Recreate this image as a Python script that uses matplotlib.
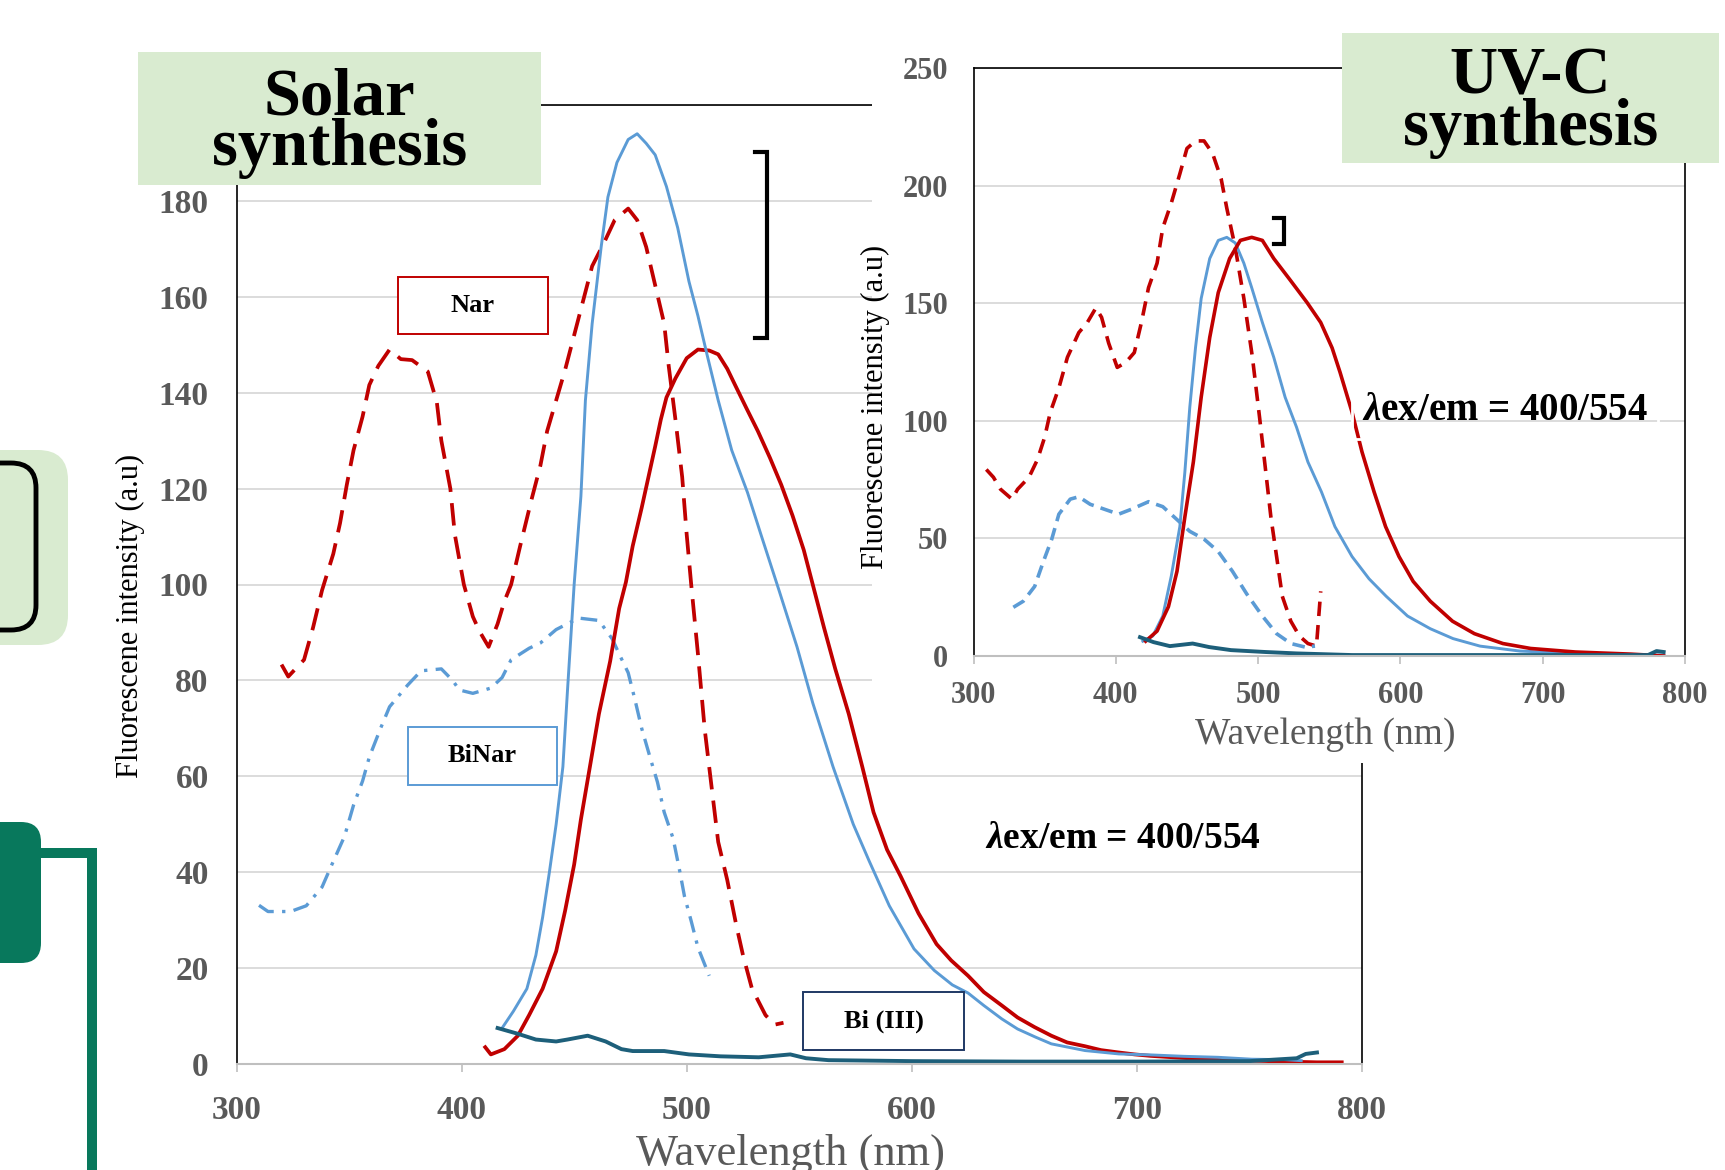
import matplotlib
matplotlib.use('Agg')
import matplotlib.pyplot as plt
from matplotlib.patches import Rectangle, FancyBboxPatch
from matplotlib.lines import Line2D

plt.rcParams['font.family'] = ['Liberation Serif', 'DejaVu Serif']
plt.rcParams['mathtext.fontset'] = 'custom'
plt.rcParams['mathtext.it'] = 'Liberation Serif:italic:bold'
plt.rcParams['mathtext.rm'] = 'Liberation Serif:bold'

# ---- Solar synthesis (main panel) ----
nar_ex_wl = [320, 323, 330, 334, 338, 343, 346, 349, 352, 356, 359, 363, 368, 373, 378,
             385, 389, 391, 395, 397, 401, 405, 408, 412, 416, 419, 422, 426, 431, 435,
             438, 442, 446, 450, 454, 458, 463, 468, 474, 478, 482, 486, 490, 492, 495,
             498, 500, 502, 505, 508, 511, 514, 518, 522, 525, 529, 535, 539, 543]
nar_ex = [83.3, 80.8, 84.3, 91, 98.8, 106.4, 112.8, 120.8, 128, 135, 141.6, 145.6, 149, 147, 146.8,
          144.4, 138, 130, 120, 110.4, 100, 93.3, 90.2, 87, 91.8, 96.5, 100, 108, 117.6, 124.8,
          132, 138.4, 144.8, 152, 159.2, 166.4, 171, 176, 178.4, 176, 170.4, 162.4, 154.4, 145.6, 134.4,
          122.4, 110.4, 100, 85.5, 69.8, 58, 46.3, 38.4, 29, 22.7, 15.7, 10.2, 8.2, 8.6]

binar_ex_wl = [310, 314, 324, 331, 338, 342, 348, 352, 356, 359, 364, 368, 376, 382, 391, 396, 399,
               405, 413, 418, 422, 430, 435, 442, 452, 461, 467, 470, 474, 477, 480, 484, 487, 490,
               494, 497, 499, 502, 505, 510]
binar_ex = [33.1, 31.8, 31.8, 33, 36.9, 41.2, 47.5, 54, 59, 64, 70, 74.5, 79, 82, 82.4, 80, 78,
            77.3, 78.4, 80.6, 84.3, 86.7, 87.8, 90.6, 93, 92.5, 88.6, 85.5, 81.6, 76, 70, 63.5, 58.8, 52.5,
            47, 40, 35, 29.8, 24.3, 18.4]

binar_em_wl = [418, 423, 429, 433, 436, 439, 442, 445, 447, 450, 453, 455, 458, 462, 465, 469, 474, 478,
               482, 486, 491, 496, 501, 505, 509, 514, 520, 527, 533, 541, 549, 556, 565, 574, 581, 590,
               601, 610, 618, 625, 632, 640, 647, 655, 662, 677, 692, 706, 721, 736, 751, 766, 773]
binar_em = [7.5, 11, 15.7, 22.7, 30.6, 40, 50, 62, 77.6, 100, 118.4, 138.4, 154.4, 170.4, 180.8, 188, 192.8, 194,
            192, 189.6, 183, 174.4, 163.2, 156, 148, 138.4, 128, 119.2, 110.4, 98.8, 87, 75.3, 62, 50, 42.4, 33,
            24, 19.5, 16.5, 14.8, 12.2, 9.4, 7.3, 5.6, 4.2, 2.8, 2.1, 1.9, 1.6, 1.4, 1, 0.9, 0.7]

nar_em_wl = [410.5, 413, 419, 425, 430, 436, 442, 446, 450, 453, 457, 461, 466, 470, 473, 476, 480, 483,
             486, 488.5, 491, 495, 500, 505, 510, 514, 518, 521.5, 526.5, 531.6, 537, 542, 547, 552, 556,
             561, 566, 572, 578, 583, 589, 595, 603, 611, 617.5, 625, 632, 640, 647, 654.5, 662, 669, 677,
             684, 692, 699, 706, 721, 736, 751, 766, 780, 791]
nar_em = [3.5, 2, 3.1, 5.9, 10.2, 15.7, 23.5, 32, 41.6, 51, 62, 73, 84, 95, 100.5, 108, 116, 122.4,
          128.8, 134.4, 139, 143, 147.2, 149, 148.8, 148, 145, 141.6, 136.8, 132, 126.4, 120.8, 114.4, 107.2, 100,
          91, 82.4, 73, 62, 52.5, 44.7, 39.2, 31.4, 25, 21.6, 18.4, 15, 12.2, 9.7, 7.7, 5.9, 4.5, 3.7,
          2.9, 2.4, 2, 1.7, 1.25, 0.9, 0.7, 0.5, 0.35, 0.35]

bi_wl = [416, 425, 433, 442, 447, 456, 464, 471, 476, 490, 501, 515, 532, 546, 553, 563, 600, 650, 700,
         750, 771, 775, 780]
bi = [7.5, 6.3, 5.1, 4.7, 5.1, 5.9, 4.7, 3.1, 2.7, 2.7, 2, 1.6, 1.4, 2, 1.2, 0.8, 0.6, 0.5, 0.5,
      0.6, 1.2, 2.1, 2.4]

# ---- UV-C synthesis (inset panel) ----
uv_nar_ex_wl = [309, 314, 319, 327, 331, 339, 345, 350, 354, 360, 366, 374, 380, 386, 390, 395, 401, 407,
                413, 418, 423, 429, 433, 439, 445, 450, 456, 462, 468, 474, 478, 484, 490, 496, 501, 505,
                509, 513, 517, 523, 529, 535, 541, 544]
uv_nar_ex = [79.3, 76, 70.9, 66.7, 70.9, 76, 83.6, 93, 103.7, 114, 127, 137.5, 141.8, 148, 144, 133, 122.7, 124.8,
             129, 141.8, 156.6, 167, 182, 192.6, 205, 215.8, 219, 219, 213.7, 203, 190.4, 173.5, 152, 127, 101.6, 80.4,
             59, 42.3, 25.4, 14.8, 8.5, 5.3, 4.2, 27.5]

uv_binar_ex_wl = [328, 335, 343, 349, 355, 360, 368, 374, 382, 392, 402, 411, 423, 433, 443, 452, 462,
                  472, 482, 492, 503, 513, 523, 533, 540]
uv_binar_ex = [20.7, 23.3, 29.6, 40, 49.7, 60.3, 66.7, 67.7, 64.5, 62.4, 60.3, 62.4, 65.6, 63.5, 58, 53, 49.7,
               44.4, 36, 26.4, 17, 9.5, 5.3, 3.8, 4.2]

uv_binar_em_wl = [419, 426, 433, 439, 445, 448.5, 452, 456, 460, 466, 472, 478, 484, 490, 495.5, 503, 511,
                  519, 527, 535, 544.5, 554, 566, 578, 590, 605, 621, 637, 656, 684, 723, 762, 785]
uv_binar_em = [6.3, 8.5, 17, 34, 55, 78, 105.8, 131, 152, 169, 176.7, 178, 175.6, 167, 156.6, 141.8, 127,
               110, 97.3, 82.5, 69.8, 55, 42.3, 32.8, 25.4, 17, 11.6, 7.4, 4.2, 2.1, 1.1, 0.4, 0.4]

uv_nar_em_wl = [421, 429, 437, 443, 448.5, 454.5, 460, 466, 472, 480, 487.5, 495.5, 503, 511, 522.6, 534.5,
                544, 552, 557.6, 566, 573, 581.5, 589.6, 599, 609, 621, 636.6, 652, 672, 691.5, 723, 762,
                774, 785]
uv_nar_em = [6.3, 10.6, 21, 36, 59, 82.5, 110, 135.4, 154.5, 169, 176.7, 178, 176.7, 169, 159.8, 150.2,
             141.8, 131, 120.6, 103.7, 86.8, 69.8, 55, 42.3, 31.7, 23.3, 14.8, 9.5, 5.3, 3.2, 1.7, 0.8,
             0.4, 0]

uv_bi_wl = [417, 426.5, 438, 454, 465.6, 481, 505, 527, 566, 774, 780, 785]
uv_bi = [8, 5.9, 4.2, 5.3, 3.8, 2.5, 1.7, 1.1, 0.4, 0.4, 2.1, 1.7]

x_ticks = [300, 400, 500, 600, 700, 800]
main_yticks = list(range(0, 201, 20))
inset_yticks = [0, 50, 100, 150, 200, 250]

RED = '#c00000'
BLUE = '#5b9bd5'
TEAL = '#1d5f7a'
NAVY = '#1f3864'
GRAY = '#595959'
LGREEN = '#d9ebd0'
DGREEN = '#08785c'

W, H = 1725, 1170
fig = plt.figure(figsize=(W / 100, H / 100), dpi=100)
fig.patch.set_facecolor('white')
PX = fig.dpi_scale_trans


def rect_in(x0, y0, x1, y1):
    # pixel box (top-left origin) -> inches
    return x0 / 100, (H - y1) / 100, (x1 - x0) / 100, (y1 - y0) / 100


def frac(x0, y0, x1, y1):
    return [x0 / W, 1 - y1 / H, (x1 - x0) / W, (y1 - y0) / H]


def add_rect(x0, y0, x1, y1, **kw):
    r = rect_in(x0, y0, x1, y1)
    p = Rectangle(r[:2], r[2], r[3], transform=PX, **kw)
    fig.add_artist(p)
    return p


def add_round(x0, y0, x1, y1, rad, **kw):
    r = rect_in(x0, y0, x1, y1)
    p = FancyBboxPatch(r[:2], r[2], r[3], boxstyle='round,pad=0,rounding_size=%g' % rad,
                       transform=PX, **kw)
    fig.add_artist(p)
    return p


def style_axis(ax, ymax, yticks, xpad, ypad, fs):
    ax.set_xlim(300, 800)
    ax.set_ylim(0, ymax)
    ax.set_xticks(x_ticks)
    ax.set_yticks(yticks)
    ax.grid(axis='y', color='#d9d9d9', lw=1.3)
    ax.set_axisbelow(True)
    for s in ['left', 'top', 'right']:
        ax.spines[s].set_color('black')
        ax.spines[s].set_linewidth(1.2)
    ax.spines['bottom'].set_color('#bfbfbf')
    ax.spines['bottom'].set_linewidth(1.5)
    ax.tick_params(axis='y', length=0, pad=ypad)
    ax.tick_params(axis='x', length=6, width=1.2, color='#bfbfbf', pad=xpad)
    for lab in ax.get_xticklabels() + ax.get_yticklabels():
        lab.set_fontsize(fs)
        lab.set_fontweight('bold')
        lab.set_color(GRAY)


# main axes
ax = fig.add_axes(frac(236.5, 105, 1362, 1064))
ax.set_zorder(1)
style_axis(ax, 200, main_yticks, 16, 20, 24)
ax.plot(nar_ex_wl, nar_ex, color=RED, lw=2.7, dashes=(6, 3))
ax.plot(binar_ex_wl, binar_ex, color=BLUE, lw=2.4, dashes=(5, 2.5, 1, 2.5))
ax.plot(nar_em_wl, nar_em, color=RED, lw=2.7)
ax.plot(binar_em_wl, binar_em, color=BLUE, lw=2.1)
ax.plot(bi_wl, bi, color=TEAL, lw=2.8)
ax.plot([530.4, 535.8, 535.8, 530.4], [190.2, 190.2, 151.4, 151.4], color='black', lw=3,
        solid_joinstyle='miter')
ax.text(693.6, 47.1, r'$\lambda$ex/em = 400/554', ha='center', va='center',
        fontsize=27, fontweight='bold')

# white background behind the inset
add_rect(872, -10, W + 10, 763, facecolor='white', edgecolor='none', zorder=2)

# inset axes
ins = fig.add_axes(frac(973.5, 68, 1685, 656))
ins.set_zorder(3)
ins.patch.set_alpha(0)
style_axis(ins, 250, inset_yticks, 12, 18, 22)
ins.plot(uv_nar_ex_wl, uv_nar_ex, color=RED, lw=2.6, dashes=(4, 2.5))
ins.plot(uv_binar_ex_wl, uv_binar_ex, color=BLUE, lw=2.6, dashes=(3.5, 2))
ins.plot(uv_binar_em_wl, uv_binar_em, color=BLUE, lw=2.1)
ins.plot(uv_nar_em_wl, uv_nar_em, color=RED, lw=2.6)
ins.plot(uv_bi_wl, uv_bi, color=TEAL, lw=2.8)
ins.plot([511.2, 518.2, 518.2, 511.2], [186.2, 186.2, 175.2, 175.2], color='black', lw=3,
         solid_joinstyle='miter')
ins.text(673.5, 104.2, r'$\lambda$ex/em = 400/554', ha='center', va='center',
         fontsize=28, fontweight='bold',
         bbox=dict(boxstyle='square,pad=0.25', facecolor='none', edgecolor='white', lw=2))

# axis titles
fig.text(130 / W, 1 - 616 / H, 'Fluorescene intensity (a.u)', rotation=90, ha='center', va='center',
         fontsize=22)
fig.text(875 / W, 1 - 407 / H, 'Fluorescene intensity (a.u)', rotation=90, ha='center', va='center',
         fontsize=22, zorder=4)
fig.text(790 / W, 1 - 1134 / H, 'Wavelength (nm)', ha='center', va='top', fontsize=32, color=GRAY)
fig.text(1325 / W, 1 - 735 / H, 'Wavelength (nm)', ha='center', va='center', fontsize=27, color=GRAY,
         zorder=4)

# series label boxes
for (x0, y0, x1, y1), txt, ec in [((398, 277, 548, 334), 'Nar', RED),
                                   ((408, 727, 557, 785), 'BiNar', BLUE),
                                   ((803, 992, 964, 1050), 'Bi (III)', NAVY)]:
    add_rect(x0, y0, x1, y1, facecolor='white', edgecolor=ec, lw=1.4, zorder=2.5)
    fig.text((x0 + x1) / 2 / W, 1 - (y0 + y1) / 2 / H, txt, ha='center', va='center', fontsize=19,
             fontweight='bold', zorder=2.6)

# title boxes
for (x0, y0, x1, y1), txt in [((137.5, 52, 541, 185), 'Solar\nsynthesis'),
                               ((1342, 33, 1719, 163), 'UV-C\nsynthesis')]:
    add_rect(x0, y0, x1, y1, facecolor=LGREEN, edgecolor='none', zorder=5)
    fig.text((x0 + x1) / 2 / W, 1 - (y0 + y1) / 2 / H - 0.004, txt, ha='center', va='center', fontsize=48,
             fontweight='bold', linespacing=0.78, zorder=6)

# left decorations
add_round(-40, 450, 68, 645, 0.3, facecolor=LGREEN, edgecolor='none', zorder=2)
add_round(-40, 463, 36, 630, 0.25, facecolor='none', edgecolor='black', lw=3.5, zorder=2.2)
add_round(-40, 822, 41, 963, 0.2, facecolor=DGREEN, edgecolor='none', zorder=2)
fig.add_artist(Line2D([38 / 100, 92 / 100, 92 / 100], [(H - 853) / 100, (H - 853) / 100, -0.1],
                      transform=PX, color=DGREEN, lw=7.2, solid_joinstyle='miter', zorder=2))

fig.savefig('out.png', dpi=100)
